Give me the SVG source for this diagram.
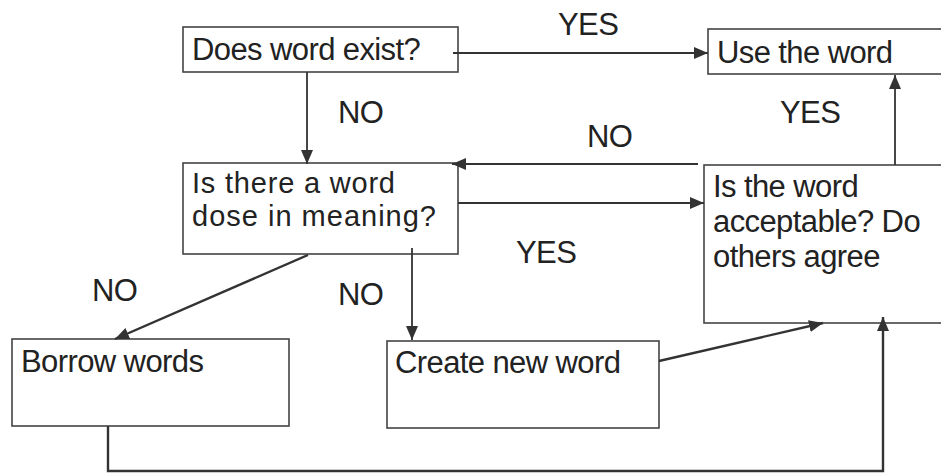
<svg xmlns="http://www.w3.org/2000/svg" width="941" height="473" viewBox="0 0 941 473">
<style>
.box{fill:#fff;stroke:#444;stroke-width:1.6}
.t{font-family:"Liberation Sans",Arial,sans-serif;font-size:31px;fill:#222;letter-spacing:-0.6px}
.s{font-size:29px;letter-spacing:0}
.c{fill:none;stroke:#333;stroke-width:1.8}
.thick{stroke-width:2.4}
</style>
<defs>
<marker id="ah" markerUnits="userSpaceOnUse" markerWidth="16" markerHeight="14" refX="14" refY="6" orient="auto">
<path d="M0,0 L14,6 L0,12 z" fill="#333"/>
</marker>
</defs>
<rect width="941" height="473" fill="#fff"/>
<g id="n-exist">
<rect class="box" x="183" y="27" width="275" height="45"/>
<text class="t" x="192" y="60">Does word exist?</text>
</g>
<g id="n-use">
<rect class="box" x="708" y="29" width="245" height="45"/>
<text class="t" x="717" y="63">Use the word</text>
</g>
<g id="n-close">
<rect class="box" x="183" y="163" width="275" height="91"/>
<text class="t s" x="192" y="193" textLength="203" lengthAdjust="spacing">Is there a word</text>
<text class="t s" x="192" y="226" textLength="244" lengthAdjust="spacing">dose in meaning?</text>
</g>
<g id="n-accept">
<rect class="box" x="704" y="165" width="250" height="158"/>
<text class="t" x="713" y="197">Is the word</text>
<text class="t" x="713" y="232">acceptable? Do</text>
<text class="t" x="713" y="267">others agree</text>
</g>
<g id="n-borrow">
<rect class="box" x="12" y="339" width="277" height="87"/>
<text class="t" x="21" y="372">Borrow words</text>
</g>
<g id="n-create">
<rect class="box" x="387" y="341" width="272" height="87"/>
<text class="t" x="395" y="373">Create new word</text>
</g>
<g id="connectors">
<line class="c" x1="453" y1="53" x2="708" y2="53" marker-end="url(#ah)"/>
<line class="c" x1="307" y1="72" x2="307" y2="164" marker-end="url(#ah)"/>
<line class="c" x1="698" y1="164" x2="452" y2="164" marker-end="url(#ah)"/>
<line class="c" x1="458" y1="203" x2="704" y2="203" marker-end="url(#ah)"/>
<line class="c" x1="895" y1="165" x2="895" y2="75" marker-end="url(#ah)"/>
<line class="c thick" x1="308" y1="255" x2="115" y2="339" marker-end="url(#ah)"/>
<line class="c" x1="412" y1="248" x2="412" y2="340" marker-end="url(#ah)"/>
<line class="c thick" x1="659" y1="361" x2="823" y2="323" marker-end="url(#ah)"/>
<polyline class="c thick" points="108,426 108,471 883,471 883,317" marker-end="url(#ah)"/>
<text class="t" x="558" y="35">YES</text>
<text class="t" x="338" y="123">NO</text>
<text class="t" x="587" y="147">NO</text>
<text class="t" x="780" y="123">YES</text>
<text class="t" x="516" y="263">YES</text>
<text class="t" x="92" y="301">NO</text>
<text class="t" x="338" y="305">NO</text>
</g>
</svg>
